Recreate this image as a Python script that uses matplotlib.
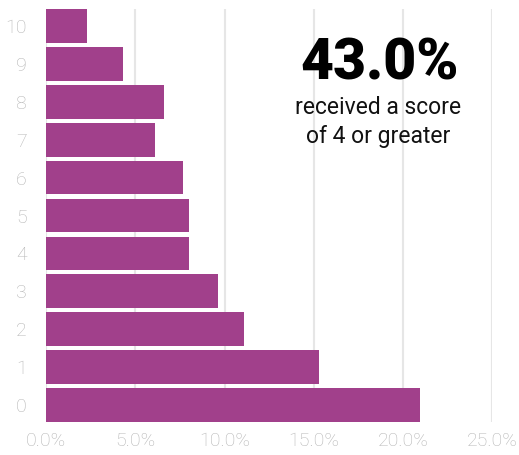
import matplotlib
matplotlib.use("Agg")
from matplotlib import pyplot as plt
from matplotlib.ticker import FuncFormatter

scores = [0, 1, 2, 3, 4, 5, 6, 7, 8, 9, 10]
share = [20.97, 15.30, 11.10, 9.61, 8.00, 8.00, 7.70, 6.10, 6.60, 4.31, 2.31]
x_ticks = [0, 5, 10, 15, 20, 25]

BAR_COLOR = "#a1408b"
TICK_COLOR = "#b5b5b5"
GRID_COLOR = "#e6e6e6"

plt.rcParams['font.family'] = ['Roboto', 'DejaVu Sans']

fig = plt.figure(figsize=(5.19, 4.55), dpi=100)
ax = fig.add_axes([46 / 519, 1 - 422 / 455, (492.3 - 46) / 519, (422 - 9) / 455])

ax.barh(scores, share, height=0.89, color=BAR_COLOR, zorder=3)
ax.set_xlim(0, 25)
ax.set_ylim(-0.445, 10.445)
ax.set_xticks(x_ticks)
ax.xaxis.set_major_formatter(FuncFormatter(lambda v, p: f"{v:.1f}%"))
ax.set_yticks(scores)
ax.grid(axis='x', color=GRID_COLOR, linewidth=1.5, zorder=0)
for s in ax.spines.values():
    s.set_visible(False)
ax.tick_params(length=0, colors=TICK_COLOR, labelsize=14)
ax.tick_params(axis='x', pad=7)
ax.tick_params(axis='y', pad=14)
for lbl in ax.get_xticklabels() + ax.get_yticklabels():
    lbl.set_fontweight('light')

top4 = sum(v for s, v in zip(scores, share) if s >= 4)
fig.text(380 / 519, 1 - 64 / 455, f"{top4:.1f}%", ha='center', va='center',
         fontsize=41, fontweight='heavy', color='black')
fig.text(378 / 519, 1 - 107 / 455, "received a score", ha='center', va='center',
         fontsize=16.5, color='#111111')
fig.text(378 / 519, 1 - 136 / 455, "of 4 or greater", ha='center', va='center',
         fontsize=16.5, color='#111111')

fig.savefig("out.png", dpi=100)
